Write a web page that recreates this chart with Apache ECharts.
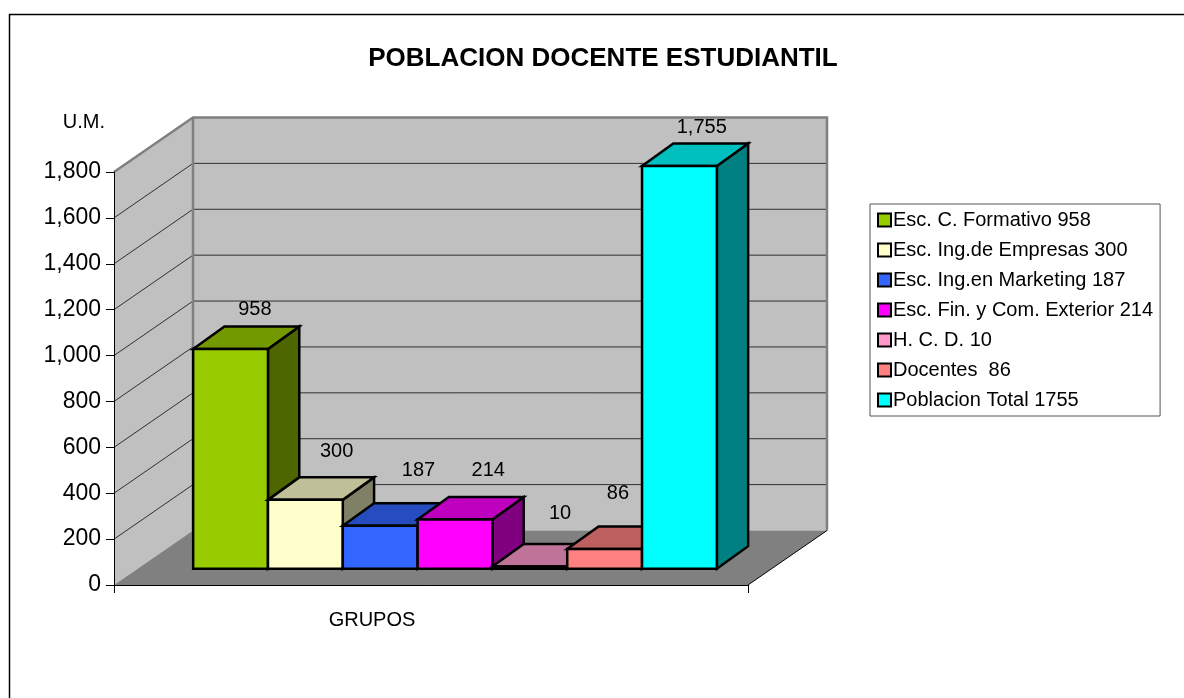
<!DOCTYPE html>
<html>
<head>
<meta charset="utf-8">
<style>html,body{margin:0;padding:0;background:#fff}#chart{width:1184px;height:698px}</style>
<script src="https://cdn.jsdelivr.net/npm/echarts@6/dist/echarts.min.js"></script>
</head>
<body>
<div id="chart"></div>
<script>
var chart = echarts.init(document.getElementById('chart'), null, { renderer: 'canvas' });

var categories = ['GRUPOS'];
var groupNames = ['Esc. C. Formativo 958', 'Esc. Ing.de Empresas 300', 'Esc. Ing.en Marketing 187', 'Esc. Fin. y Com. Exterior 214', 'H. C. D. 10', 'Docentes  86', 'Poblacion Total 1755'];
var groupValues = [958, 300, 187, 214, 10, 86, 1755];
var groupColors = ['#99CC00', '#FFFFCC', '#3366FF', '#FF00FF', '#FF99CC', '#FF8080', '#00FFFF'];
var yTicks = [200, 400, 600, 800, 1000, 1200, 1400, 1600, 1800];

// the label offsets from the top back edge of each bar, excel placed them unevenly
var labelNudge = [[-7, -17], [0, -26], [7, -33], [2, -27], [-1, -30], [-18, -33], [-9, -16]];

var wallDepth = [79, -54.5];
var barDepth = [31.3, -22.5];
var barShift = [24, -16.3]; // bars do not sit on the front edge of the floor
var barShare = 0.118; // bar width as part of the category band

// darker version of a colour, for the top and side of the bars
function shade(hex, k) {
    var n = parseInt(hex.slice(1), 16);
    var r = Math.round((n >> 16 & 255) * k);
    var g = Math.round((n >> 8 & 255) * k);
    var b = Math.round((n & 255) * k);
    return 'rgb(' + r + ',' + g + ',' + b + ')';
}

function face(points, fill, stroke, width) {
    return {
        type: 'polygon',
        shape: { points: points },
        style: { fill: fill, stroke: stroke, lineWidth: width }
    };
}

// side wall, back wall, floor and grid lines
function renderWalls(params, api) {
    var base = api.coord([categories[0], 0]);
    var top = api.coord([categories[0], 1800]);
    var band = api.size([1, 0])[0];
    var x0 = base[0] - band / 2;
    var x1 = base[0] + band / 2;
    var dx = wallDepth[0], dy = wallDepth[1];
    var children = [
        face([[x0, base[1]], [x0 + dx, base[1] + dy], [x0 + dx, top[1] + dy], [x0, top[1]]], '#C0C0C0', null, 0),
        face([[x0 + dx, base[1] + dy], [x1 + dx, base[1] + dy], [x1 + dx, top[1] + dy], [x0 + dx, top[1] + dy]], '#C0C0C0', null, 0),
        face([[x0, base[1]], [x1, base[1]], [x1 + dx, base[1] + dy], [x0 + dx, base[1] + dy]], '#808080', null, 0)
    ];
    yTicks.forEach(function (v) {
        var y = api.coord([categories[0], v])[1];
        children.push({
            type: 'polyline',
            shape: { points: [[x0, y], [x0 + dx, y + dy], [x1 + dx, y + dy]] },
            style: { fill: null, stroke: '#303030', lineWidth: 1 }
        });
    });
    children.push({
        type: 'polyline',
        shape: { points: [[x0, top[1]], [x0 + dx, top[1] + dy], [x1 + dx, top[1] + dy], [x1 + dx, base[1] + dy]] },
        style: { fill: null, stroke: '#808080', lineWidth: 2.5 }
    });
    children.push({
        type: 'line',
        shape: { x1: x0 + dx, y1: top[1] + dy, x2: x0 + dx, y2: base[1] + dy },
        style: { stroke: '#808080', lineWidth: 2.5 }
    });
    children.push({
        type: 'line',
        shape: { x1: x1, y1: base[1], x2: x1 + dx, y2: base[1] + dy },
        style: { stroke: '#000', lineWidth: 1 }
    });
    return { type: 'group', children: children };
}

function renderBar(index) {
    return function (params, api) {
        var value = api.value(1);
        var base = api.coord([categories[0], 0]);
        var top = api.coord([categories[0], value]);
        var band = api.size([1, 0])[0];
        var w = band * barShare;
        var x0 = base[0] + barShift[0] + (index - groupValues.length / 2) * w;
        var x1 = x0 + w;
        var y0 = base[1] + barShift[1];
        var y1 = top[1] + barShift[1];
        var dx = barDepth[0], dy = barDepth[1];
        var color = groupColors[index];
        return {
            type: 'group',
            children: [
                face([[x1, y0], [x1 + dx, y0 + dy], [x1 + dx, y1 + dy], [x1, y1]], shade(color, 0.5), '#000', 2.5),
                face([[x0, y1], [x1, y1], [x1 + dx, y1 + dy], [x0 + dx, y1 + dy]], shade(color, 0.75), '#000', 2.5),
                face([[x0, y0], [x1, y0], [x1, y1], [x0, y1]], color, '#000', 2.5),
                {
                    type: 'text',
                    z2: 50,
                    style: {
                        text: value.toLocaleString('en-US'),
                        x: x0 + w / 2 + dx + labelNudge[index][0],
                        y: y1 + dy + labelNudge[index][1],
                        align: 'center',
                        verticalAlign: 'middle',
                        fill: '#000',
                        font: '20px "Liberation Sans"'
                    }
                }
            ]
        };
    };
}

var series = [{
    name: 'walls',
    type: 'custom',
    z: 1,
    renderItem: renderWalls,
    data: [[categories[0], 0]]
}];
groupNames.forEach(function (name, i) {
    series.push({
        name: name,
        type: 'custom',
        z: 2 + i,
        renderItem: renderBar(i),
        itemStyle: { color: groupColors[i], borderColor: '#000', borderWidth: 2 },
        data: [[categories[0], groupValues[i]]]
    });
});

chart.setOption({
    animation: false,
    backgroundColor: '#fff',
    textStyle: { fontFamily: 'Liberation Sans', color: '#000' },
    title: {
        text: 'POBLACION DOCENTE ESTUDIANTIL',
        left: 598,
        top: 41,
        textAlign: 'center',
        textStyle: { fontFamily: 'Liberation Sans', fontSize: 26, fontWeight: 'bold', color: '#000' }
    },
    grid: { left: 114, right: 436, top: 172, bottom: 113 },
    xAxis: {
        type: 'category',
        data: categories,
        z: 20,
        axisLine: { lineStyle: { color: '#000', width: 1 } },
        axisTick: { show: true, length: 8, lineStyle: { color: '#000' } },
        axisLabel: { fontSize: 20, color: '#000', margin: 25, padding: [0, 118, 0, 0], fontFamily: 'Liberation Sans' }
    },
    yAxis: {
        type: 'value',
        min: 0,
        max: 1800,
        interval: 200,
        name: 'U.M.',
        nameGap: 40,
        nameTextStyle: { fontSize: 20, color: '#000', align: 'right', padding: [0, 9, 0, 0], fontFamily: 'Liberation Sans' },
        z: 20,
        splitLine: { show: false },
        axisLine: { show: true, lineStyle: { color: '#000', width: 1 } },
        axisTick: { show: true, length: 8, lineStyle: { color: '#000' } },
        axisLabel: { fontSize: 23, color: '#000', margin: 13, fontFamily: 'Liberation Sans' }
    },
    legend: {
        orient: 'vertical',
        left: 870,
        top: 204,
        data: groupNames,
        selectedMode: false,
        icon: 'rect',
        itemWidth: 13,
        itemHeight: 13,
        itemGap: 10,
        padding: [6, 7, 6, 7],
        borderColor: '#555',
        borderWidth: 1,
        backgroundColor: '#fff',
        textStyle: { fontSize: 20, color: '#000', fontFamily: 'Liberation Sans', padding: [0, 0, 0, -3] }
    },
    graphic: [{
        type: 'rect',
        silent: true,
        z: 0,
        shape: { x: 9.5, y: 14.5, width: 1300, height: 800 },
        style: { fill: null, stroke: '#000', lineWidth: 1.5 }
    }],
    series: series
});
</script>
</body>
</html>
